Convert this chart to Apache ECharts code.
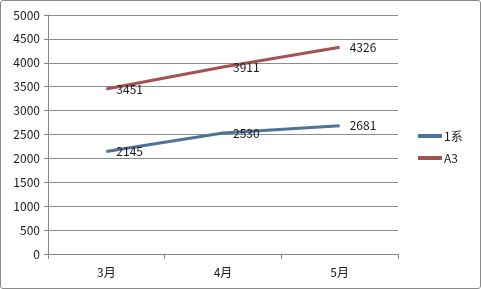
<!DOCTYPE html>
<html><head><meta charset="utf-8">
<script src="https://cdn.jsdelivr.net/npm/echarts@6/dist/echarts.min.js"></script>
<style>
html,body{margin:0;padding:0;background:#fff;}
#c{position:absolute;left:0;top:0;width:479px;height:287px;border:1px solid #8a8a8a;border-radius:3px;}
</style></head>
<body><div id="c"></div>
<script>
var categories = ['3月', '4月', '5月'];
var series1Name = '1系';
var series1 = [2145, 2530, 2681];
var series2Name = 'A3';
var series2 = [3451, 3911, 4326];
var yTicks = {min: 0, max: 5000, interval: 500};

var chart = echarts.init(document.getElementById('c'), null, {renderer: 'canvas'});
var font = '"Noto Sans CJK SC", "DejaVu Sans", sans-serif';
var lbl = {show: true, position: 'right', distance: 10, offset: [0, 3], fontFamily: font, fontSize: 12, color: '#1a1a1a'};
chart.setOption({
  animation: false,
  grid: {left: 47, right: 82, top: 14, bottom: 34},
  legend: {
    orient: 'vertical', left: 412, top: 124, itemGap: 10, itemWidth: 24, itemHeight: 4,
    icon: 'rect',
    textStyle: {fontFamily: font, fontSize: 12, color: '#1a1a1a', padding: [0,0,0,-3]},
    data: [series1Name, series2Name]
  },
  xAxis: {
    type: 'category', data: categories, boundaryGap: true,
    axisLine: {lineStyle: {color: '#888', width: 1}},
    axisTick: {show: true, length: 5, inside: false, lineStyle: {color: '#888'}},
    axisLabel: {fontFamily: font, fontSize: 12, color: '#1a1a1a', margin: 12}
  },
  yAxis: {
    type: 'value', min: yTicks.min, max: yTicks.max, interval: yTicks.interval,
    axisLine: {show: true, lineStyle: {color: '#888', width: 1}},
    axisTick: {show: true, length: 4, lineStyle: {color: '#888'}},
    splitLine: {show: true, lineStyle: {color: '#8c8c8c', width: 1}},
    axisLabel: {fontFamily: font, fontSize: 12, color: '#1a1a1a', margin: 8, formatter: function(v){ return String(v); }}
  },
  series: [
    {
      name: series1Name, type: 'line', data: series1, symbol: 'circle', symbolSize: 0, showSymbol: true,
      lineStyle: {color: '#4f7396', width: 3}, itemStyle: {color: '#4f7396'},
      label: lbl, labelLayout: {hideOverlap: false}
    },
    {
      name: series2Name, type: 'line', data: series2, symbol: 'circle', symbolSize: 0, showSymbol: true,
      lineStyle: {color: '#a4524f', width: 3}, itemStyle: {color: '#a4524f'},
      label: lbl, labelLayout: {hideOverlap: false}
    }
  ]
});
</script></body></html>
